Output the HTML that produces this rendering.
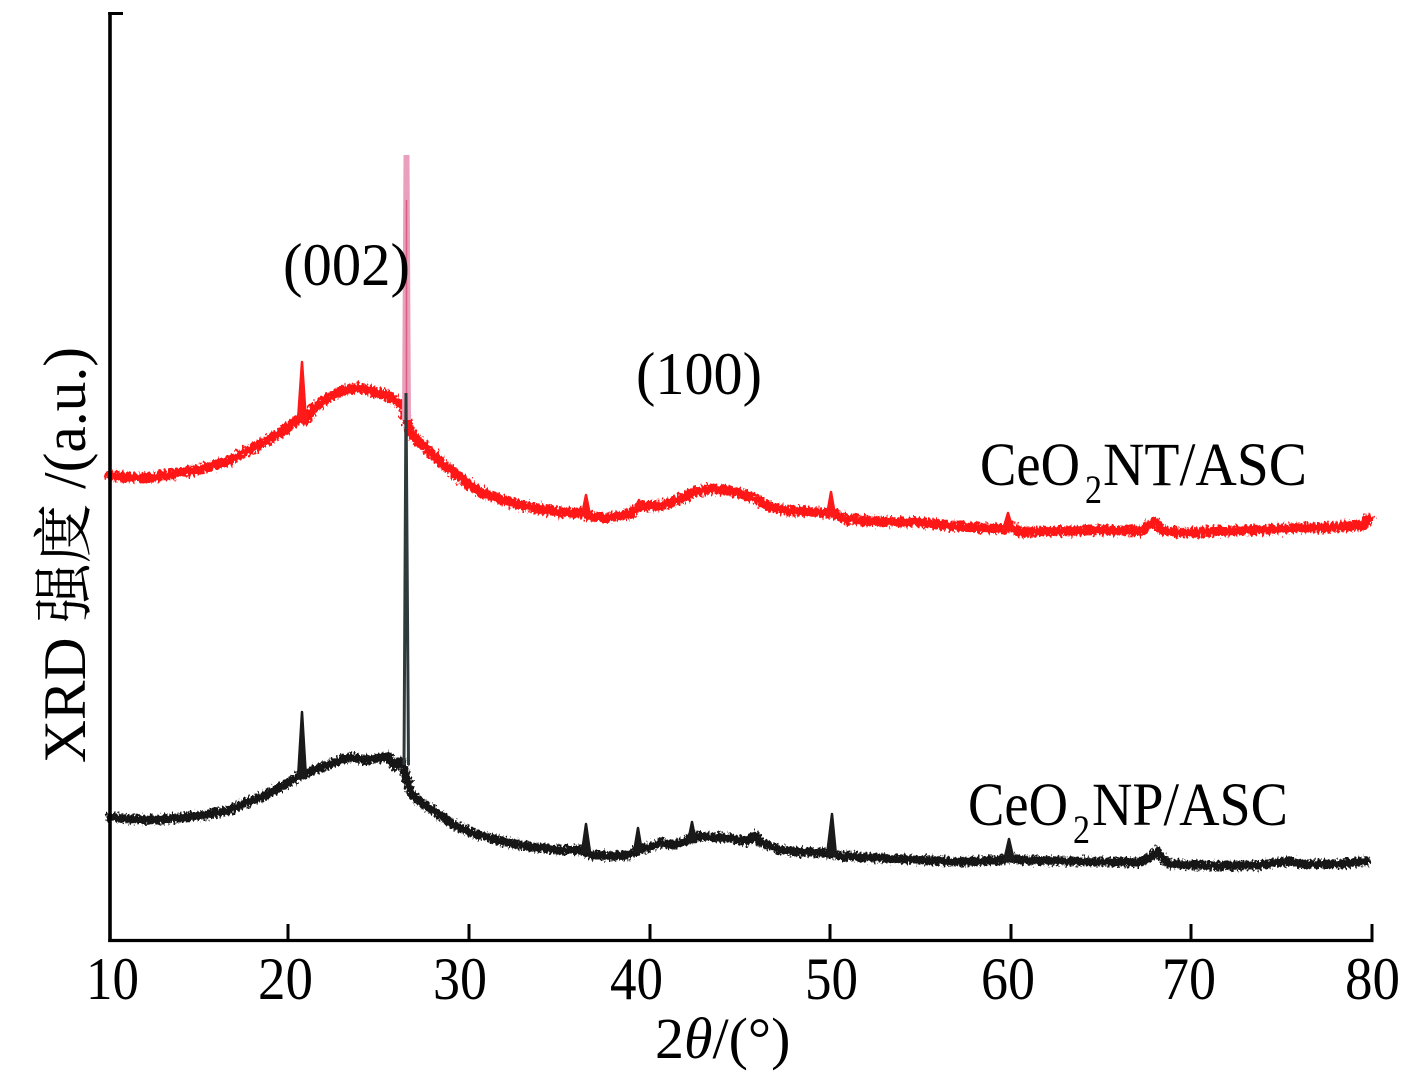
<!DOCTYPE html>
<html>
<head>
<meta charset="utf-8">
<style>
  html,body{margin:0;padding:0;background:#fff;}
  svg{display:block;}
  text{font-family:"Liberation Serif","Noto Serif CJK SC",serif;fill:#000;}
</style>
</head>
<body>
<svg width="1418" height="1089" viewBox="0 0 1418 1089" xmlns="http://www.w3.org/2000/svg">
  <defs>
    <filter id="rough" filterUnits="userSpaceOnUse" x="0" y="0" width="1418" height="1089">
      <feTurbulence type="fractalNoise" baseFrequency="0.45 0.25" numOctaves="2" seed="7" result="n"/>
      <feDisplacementMap in="SourceGraphic" in2="n" scale="10" xChannelSelector="R" yChannelSelector="G"/>
    </filter>
    <filter id="rough2" filterUnits="userSpaceOnUse" x="0" y="0" width="1418" height="1089">
      <feTurbulence type="fractalNoise" baseFrequency="0.5 0.3" numOctaves="2" seed="11" result="n"/>
      <feDisplacementMap in="SourceGraphic" in2="n" scale="9" xChannelSelector="R" yChannelSelector="G"/>
    </filter>
  </defs>

  <!-- Red curve (CeO2NT/ASC) -->
  <g filter="url(#rough)">
    <polyline fill="none" stroke="#ff1414" stroke-width="10" stroke-linejoin="round" stroke-linecap="round"
      points="110,475 125,477 145,478 160,476 175,474 190,471 205,468 218,464 230,460 245,452 255,447 265,442 280,433 292,424 300,418 305,420 310,414 315,407 325,400 335,394 345,390 355,388 365,389 372,391 380,393 392,398 400,404 404,410 410,432 412,435 420,443 430,452 442,463 455,474 468,484 480,492 500,499 520,505 540,509 560,512 580,513 592,516 600,518 615,517 630,514 640,506 655,506 670,503 685,497 695,492 710,489 725,490 740,493 755,499 770,507 790,511 810,512 825,513 834,514 845,519 870,521 900,522 920,522 950,526 980,528 1000,529 1012,527 1020,532 1060,531 1100,530 1140,531 1148,526 1155,522 1162,530 1180,533 1220,531 1260,530 1300,528 1340,527 1364,525 1368,519"/>
  </g>
  <!-- Red spikes -->
  <g fill="#ff1a1a" stroke="#ff1a1a" stroke-width="2.5" stroke-linejoin="round">
    <polygon points="298,420 302,362 306,421"/>
    <polygon points="582,515 586,495 590,515"/>
    <polygon points="635,508 639,500 643,508"/>
    <polygon points="827,515 831,492 835,515"/>
    <polygon points="1003,530 1008,513 1013,530"/>
  </g>

  <!-- Black curve (CeO2NP/ASC) -->
  <g filter="url(#rough2)">
    <polyline fill="none" stroke="#161616" stroke-width="9" stroke-linejoin="round" stroke-linecap="round"
      points="110,817 130,819 150,820 165,819 180,818 195,816 210,814 230,810 245,803 260,798 275,790 290,782 298,776 306,774 312,770 325,766 340,760 352,757 365,760 380,758 388,756 394,766 398,762 402,762 410,790 414,797 425,805 440,815 455,825 470,832 490,838 510,843 530,847 560,850 580,850 592,855 610,856 630,855 640,849 648,848 660,843 675,845 688,840 696,836 710,837 730,838 748,841 755,835 760,842 780,850 800,852 825,853 840,856 880,858 920,860 960,862 1000,860 1012,858 1020,860 1060,861 1100,862 1140,862 1150,857 1157,851 1162,858 1170,864 1220,866 1260,865 1290,861 1300,864 1340,864 1366,861"/>
  </g>
  <!-- Black spikes -->
  <g fill="#1a1a1a" stroke="#1a1a1a" stroke-width="2.5" stroke-linejoin="round">
    <polygon points="298,778 302,712 306,778"/>
    <polygon points="582,852 586,824 590,852"/>
    <polygon points="634,852 638,828 642,852"/>
    <polygon points="688,842 692,822 696,842"/>
    <polygon points="827,855 832,814 836,855"/>
    <polygon points="1004,861 1009,839 1014,861"/>
  </g>

  <!-- Main (002) sharp peaks -->
  <polyline fill="none" stroke="#eaa0bd" stroke-width="6" points="405,420 406.5,155 408,420"/>
  <polyline fill="none" stroke="#d8607e" stroke-width="1.6" points="406.5,200 406.5,400"/>
  <polyline fill="none" stroke="#2f3b3a" stroke-width="3" points="404,765 406,393 408.5,765"/>

  <!-- Axes -->
  <line x1="110" y1="12" x2="110" y2="942" stroke="#000" stroke-width="3.6"/>
  <line x1="108.2" y1="13.5" x2="123" y2="13.5" stroke="#000" stroke-width="3"/>
  <line x1="108.2" y1="940.5" x2="1373.5" y2="940.5" stroke="#000" stroke-width="3.2"/>
  <g stroke="#000" stroke-width="3">
    <line x1="288" y1="924" x2="288" y2="940"/>
    <line x1="469" y1="924" x2="469" y2="940"/>
    <line x1="650" y1="924" x2="650" y2="940"/>
    <line x1="830" y1="924" x2="830" y2="940"/>
    <line x1="1011" y1="924" x2="1011" y2="940"/>
    <line x1="1191" y1="924" x2="1191" y2="940"/>
    <line x1="1372" y1="924" x2="1372" y2="940"/>
  </g>

  <!-- Tick labels -->
  <g font-size="60">
    <text x="86" y="999" textLength="53" lengthAdjust="spacingAndGlyphs">10</text>
    <text x="258" y="999" textLength="55" lengthAdjust="spacingAndGlyphs">20</text>
    <text x="433" y="999" textLength="54" lengthAdjust="spacingAndGlyphs">30</text>
    <text x="610" y="999" textLength="53" lengthAdjust="spacingAndGlyphs">40</text>
    <text x="805" y="999" textLength="53" lengthAdjust="spacingAndGlyphs">50</text>
    <text x="981" y="999" textLength="54" lengthAdjust="spacingAndGlyphs">60</text>
    <text x="1162" y="999" textLength="54" lengthAdjust="spacingAndGlyphs">70</text>
    <text x="1345" y="999" textLength="55" lengthAdjust="spacingAndGlyphs">80</text>
  </g>

  <!-- X axis title -->
  <text x="655" y="1058" font-size="58">2<tspan font-style="italic">θ</tspan>/(°)</text>

  <!-- Y axis title -->
  <text transform="translate(85,763) rotate(-90)" x="0" y="0" font-size="60" textLength="416" lengthAdjust="spacingAndGlyphs">XRD 强度 /(a.u.)</text>

  <!-- Peak labels -->
  <text x="283" y="285" font-size="60" textLength="127" lengthAdjust="spacingAndGlyphs">(002)</text>
  <text x="636" y="394" font-size="60" textLength="126" lengthAdjust="spacingAndGlyphs">(100)</text>

  <!-- Series labels -->
  <text x="980" y="485" font-size="61" textLength="100" lengthAdjust="spacingAndGlyphs">CeO</text>
  <text x="1085" y="503" font-size="40" textLength="17" lengthAdjust="spacingAndGlyphs">2</text>
  <text x="1103" y="485" font-size="61" textLength="204" lengthAdjust="spacingAndGlyphs">NT/ASC</text>

  <text x="968" y="825" font-size="61" textLength="100" lengthAdjust="spacingAndGlyphs">CeO</text>
  <text x="1073" y="843" font-size="40" textLength="17" lengthAdjust="spacingAndGlyphs">2</text>
  <text x="1092" y="825" font-size="61" textLength="196" lengthAdjust="spacingAndGlyphs">NP/ASC</text>
</svg>
</body>
</html>
